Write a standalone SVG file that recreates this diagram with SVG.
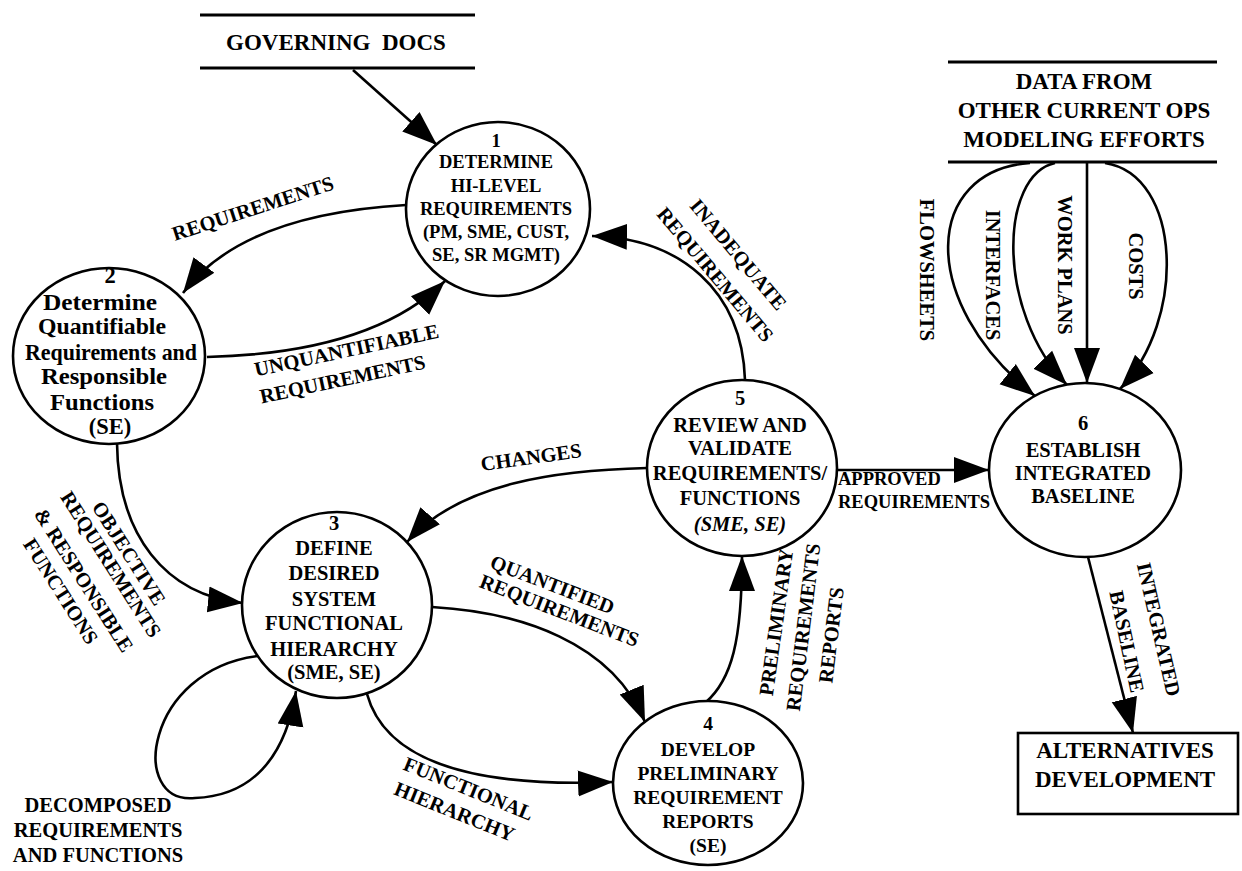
<svg xmlns="http://www.w3.org/2000/svg" width="1242" height="871" viewBox="0 0 1242 871">
<defs>
<style>
text{font-family:"Liberation Serif","Times New Roman",serif;font-weight:bold;fill:#000;text-anchor:middle}
.n1{font-size:18.5px}
.n{font-size:20.5px}
.n2{font-size:22.5px}
.n4{font-size:19.5px}
.lb{font-size:20.5px}
.ap{font-size:18.5px;text-anchor:start}
.st{font-size:23px}
.it{font-style:italic}
.node{fill:#fff;stroke:#000;stroke-width:2.6}
.cn{fill:none;stroke:#000;stroke-width:2.6;marker-end:url(#ah)}
.bar{stroke:#000;stroke-width:3.2}
</style>
<marker id="ah" markerUnits="userSpaceOnUse" markerWidth="36" markerHeight="28" refX="35" refY="13" orient="auto" viewBox="0 0 36 26">
<path d="M0,0 L35,13 L0,26 z" fill="#000"/>
</marker>
</defs>
<rect width="1242" height="871" fill="#fff"/>

<g id="store-governing">
<line class="bar" x1="200" y1="15" x2="475" y2="15"/>
<line class="bar" x1="200" y1="68" x2="475" y2="68"/>
<text class="st" x="336" y="50" xml:space="preserve">GOVERNING  DOCS</text>
</g>

<g id="store-data">
<line class="bar" x1="948" y1="62" x2="1217" y2="62"/>
<line class="bar" x1="948" y1="162" x2="1217" y2="162"/>
<text class="st" x="1084" y="89">DATA FROM</text>
<text class="st" x="1084" y="118">OTHER CURRENT OPS</text>
<text class="st" x="1084" y="147">MODELING EFFORTS</text>
</g>

<g id="ext-alternatives">
<rect x="1018" y="733" width="220" height="81" fill="#fff" stroke="#000" stroke-width="2.6"/>
<text class="st" x="1125" y="758">ALTERNATIVES</text>
<text class="st" x="1125" y="787">DEVELOPMENT</text>
</g>

<g id="connectors">
<path class="cn" d="M353,70 L437,145"/>
<path class="cn" d="M406,205 C320,210 230,230 183,293"/>
<path class="cn" d="M207,357 C290,355 385,340 445,281"/>
<path class="cn" d="M745,380 C742,290 680,238 592,236"/>
<path class="cn" d="M647,468 C560,470 460,482 407,542"/>
<path class="cn" d="M117,443 C118,535 165,595 243,603"/>
<path class="cn" d="M258,656 C145,670 128,805 195,798 C250,796 285,760 296,691"/>
<path class="cn" d="M432,607 C520,612 612,642 645,722"/>
<path class="cn" d="M367,694 C385,760 470,788 613,782"/>
<path class="cn" d="M705,703 C732,680 742,640 742,556"/>
<path class="cn" d="M837,470 L989,470"/>
<path class="cn" d="M1030,163 C925,170 915,300 1035,396"/>
<path class="cn" d="M1055,163 C1000,175 995,310 1067,385"/>
<path class="cn" d="M1087,163 L1087,383"/>
<path class="cn" d="M1105,163 C1182,175 1187,320 1120,389"/>
<path class="cn" d="M1088,557 L1133,733"/>

<text class="lb" transform="translate(255,215) rotate(-18)">REQUIREMENTS</text>
<text class="lb" transform="translate(348,357) rotate(-12)">UNQUANTIFIABLE</text>
<text class="lb" transform="translate(344,386) rotate(-12)">REQUIREMENTS</text>
<text class="lb" transform="translate(733,259) rotate(50)">INADEQUATE</text>
<text class="lb" transform="translate(710,279) rotate(50)">REQUIREMENTS</text>
<text class="lb" transform="translate(532,464) rotate(-8)">CHANGES</text>
<text class="lb" transform="translate(123,557) rotate(57.5)">OBJECTIVE</text>
<text class="lb" transform="translate(105,568) rotate(57.5)">REQUIREMENTS</text>
<text class="lb" transform="translate(78,584) rotate(57.5)">&amp; RESPONSIBLE</text>
<text class="lb" transform="translate(55,595) rotate(57.5)">FUNCTIONS</text>
<text class="lb" x="98" y="812">DECOMPOSED</text>
<text class="lb" x="98" y="837">REQUIREMENTS</text>
<text class="lb" x="98" y="862">AND FUNCTIONS</text>
<text class="lb" transform="translate(550,591) rotate(21)">QUANTIFIED</text>
<text class="lb" transform="translate(557,617) rotate(21)">REQUIREMENTS</text>
<text class="lb" transform="translate(466,795) rotate(22)">FUNCTIONAL</text>
<text class="lb" transform="translate(452,818) rotate(22)">HIERARCHY</text>
<text class="lb" transform="translate(783,623) rotate(-82)">PRELIMINARY</text>
<text class="lb" transform="translate(810,628) rotate(-83)">REQUIREMENTS</text>
<text class="lb" transform="translate(838,636) rotate(-83)">REPORTS</text>
<text class="ap" x="838" y="485">APPROVED</text>
<text class="ap" x="838" y="508">REQUIREMENTS</text>
<text class="lb" transform="translate(920,270) rotate(90)">FLOWSHEETS</text>
<text class="lb" transform="translate(986,275) rotate(90)">INTERFACES</text>
<text class="lb" transform="translate(1058,265) rotate(90)">WORK PLANS</text>
<text class="lb" transform="translate(1129,266) rotate(90)">COSTS</text>
<text class="lb" transform="translate(1152,631) rotate(77)">INTEGRATED</text>
<text class="lb" transform="translate(1120,643) rotate(78)">BASELINE</text>
</g>

<g id="node1">
<ellipse class="node" cx="498" cy="209" rx="92" ry="87"/>
<text class="n1" x="496" y="147">1</text>
<text class="n1" x="496" y="168">DETERMINE</text>
<text class="n1" x="496" y="192">HI-LEVEL</text>
<text class="n1" x="496" y="215">REQUIREMENTS</text>
<text class="n1" x="496" y="238">(PM, SME, CUST,</text>
<text class="n1" x="496" y="261">SE, SR MGMT)</text>
</g>

<g id="node2">
<ellipse class="node" cx="109" cy="356" rx="96" ry="88"/>
<text class="n2" x="110" y="283">2</text>
<text class="n2" x="100" y="310" text-anchor="middle" textLength="114" lengthAdjust="spacingAndGlyphs">Determine</text>
<text class="n2" x="102" y="334" textLength="128" lengthAdjust="spacingAndGlyphs">Quantifiable</text>
<text class="n2" x="111" y="360" textLength="172" lengthAdjust="spacingAndGlyphs">Requirements and</text>
<text class="n2" x="104" y="384" textLength="126" lengthAdjust="spacingAndGlyphs">Responsible</text>
<text class="n2" x="102" y="410" textLength="104" lengthAdjust="spacingAndGlyphs">Functions</text>
<text class="n2" x="110" y="434">(SE)</text>
</g>

<g id="node3">
<ellipse class="node" cx="337" cy="605" rx="95" ry="93"/>
<text class="n" x="334" y="530">3</text>
<text class="n" x="334" y="555">DEFINE</text>
<text class="n" x="334" y="580">DESIRED</text>
<text class="n" x="334" y="606">SYSTEM</text>
<text class="n" x="334" y="630">FUNCTIONAL</text>
<text class="n" x="334" y="656">HIERARCHY</text>
<text class="n" x="334" y="679">(SME, SE)</text>
</g>

<g id="node4">
<ellipse class="node" cx="708" cy="783" rx="95" ry="82"/>
<text class="n4" x="708" y="730">4</text>
<text class="n4" x="708" y="756">DEVELOP</text>
<text class="n4" x="708" y="780">PRELIMINARY</text>
<text class="n4" x="708" y="804">REQUIREMENT</text>
<text class="n4" x="708" y="828">REPORTS</text>
<text class="n4" x="708" y="852">(SE)</text>
</g>

<g id="node5">
<ellipse class="node" cx="742" cy="468" rx="95" ry="88"/>
<text class="n" x="740" y="405">5</text>
<text class="n" x="740" y="432">REVIEW AND</text>
<text class="n" x="740" y="455">VALIDATE</text>
<text class="n" x="740" y="480">REQUIREMENTS/</text>
<text class="n" x="740" y="505">FUNCTIONS</text>
<text class="n it" x="740" y="531">(SME, SE)</text>
</g>

<g id="node6">
<ellipse class="node" cx="1085" cy="470" rx="96" ry="87"/>
<text class="n" x="1083" y="430">6</text>
<text class="n" x="1083" y="457">ESTABLISH</text>
<text class="n" x="1083" y="480">INTEGRATED</text>
<text class="n" x="1083" y="503">BASELINE</text>
</g>
</svg>
